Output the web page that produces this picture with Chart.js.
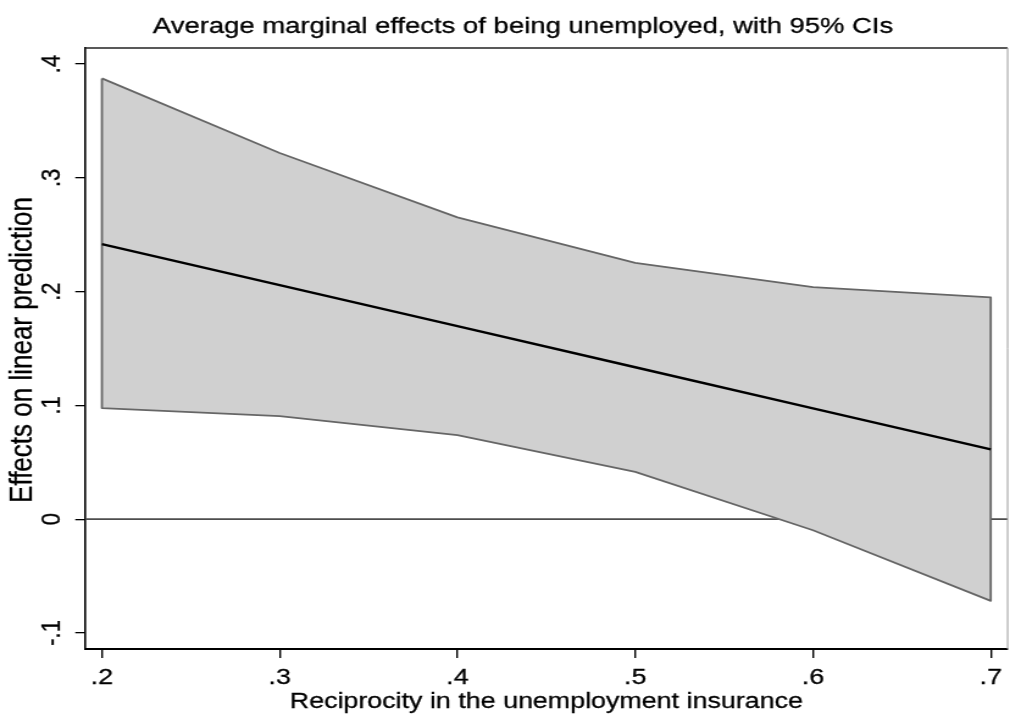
<!DOCTYPE html>
<html>
<head>
<meta charset="utf-8">
<script src="https://cdn.jsdelivr.net/npm/chart.js@4.4.1/dist/chart.umd.min.js"></script>
<style>
  html, body { margin: 0; padding: 0; background: #fff; overflow: hidden; }
  /* the graph is laid out 828 wide and stretched to the 1010 px window */
  #wrap { width: 828px; height: 720px; transform: scaleX(1.219807); transform-origin: 0 0; }
  canvas { display: block; }
</style>
</head>
<body>
<div id="wrap"><canvas id="c" width="828" height="720"></canvas></div>
<script>
// Reciprocity levels at which the margins were evaluated
const reciprocity = [0.2, 0.3, 0.4, 0.5, 0.6, 0.7];
// Average marginal effect of being unemployed
const effect  = [0.2418, 0.2057, 0.1696, 0.1335, 0.0974, 0.0613];
// 95% confidence limits
const ciUpper = [0.3874, 0.3218, 0.2652, 0.2253, 0.2040, 0.1949];
const ciLower = [0.0976, 0.0905, 0.0738, 0.0416, -0.0097, -0.0718];

const xTickValues = [0.2, 0.3, 0.4, 0.5, 0.6, 0.7];
const xTickLabels = ['.2', '.3', '.4', '.5', '.6', '.7'];
const yTickValues = [-0.1, 0, 0.1, 0.2, 0.3, 0.4];
const yTickLabels = ['-.1', '0', '.1', '.2', '.3', '.4'];

const titleText = 'Average marginal effects of being unemployed, with 95% CIs';
const xTitle = 'Reciprocity in the unemployment insurance';
const yTitle = 'Effects on linear prediction';

const FONT = '"Liberation Sans", Arial, Helvetica, sans-serif';
const X_MIN = 0.1905, X_MAX = 0.7095;
const Y_MIN = -0.1141, Y_MAX = 0.4141;

const pts = ys => reciprocity.map((x, i) => ({ x: x, y: ys[i] }));
const ciOutline = pts(ciUpper).concat(pts(ciLower).reverse());
ciOutline.push(ciOutline[0]);

// graph title and axis titles, drawn with a light outline so they read as heavy as the ticks
function heavyText(ctx, text, x, y, size, rotate) {
  ctx.save();
  ctx.translate(x, y);
  if (rotate) ctx.rotate(-Math.PI / 2);
  ctx.font = size + 'px ' + FONT;
  ctx.fillStyle = '#000';
  ctx.strokeStyle = '#000';
  ctx.lineWidth = 0.3;
  ctx.textAlign = 'center';
  ctx.textBaseline = rotate ? 'middle' : 'alphabetic';
  ctx.fillText(text, 0, 0);
  ctx.strokeText(text, 0, 0);
  ctx.restore();
}

const graphText = {
  id: 'graphText',
  afterDraw(chart) {
    const a = chart.chartArea, ctx = chart.ctx;
    heavyText(ctx, titleText, 428.8, 33.3, 22.5, false);
    heavyText(ctx, xTitle, (a.left + a.right) / 2, 708.3, 22, false);
    heavyText(ctx, yTitle, 18.8, (a.top + a.bottom) / 2 + 1.5, 26, true);
  }
};

const plotFrame = {
  id: 'plotFrame',
  afterDatasetsDraw(chart) {
    const a = chart.chartArea, ctx = chart.ctx;
    ctx.save();
    ctx.lineWidth = 1.4;
    ctx.strokeStyle = '#222';
    ctx.beginPath();
    ctx.moveTo(a.left, a.top);
    ctx.lineTo(a.right, a.top);
    ctx.stroke();
    ctx.lineWidth = 1;
    ctx.strokeStyle = '#999';
    ctx.beginPath();
    ctx.moveTo(a.right, a.top);
    ctx.lineTo(a.right, a.bottom);
    ctx.stroke();
    ctx.restore();
  }
};

new Chart(document.getElementById('c'), {
  type: 'line',
  data: {
    datasets: [
      { label: 'zero', data: [{ x: X_MIN, y: 0 }, { x: X_MAX, y: 0 }],
        borderColor: '#4d4d4d', borderWidth: 1.7, pointRadius: 0, fill: false, order: 4 },
      { label: 'upper', data: pts(ciUpper), borderColor: 'transparent', borderWidth: 0,
        backgroundColor: '#d0d0d0', fill: '+1', pointRadius: 0, order: 3 },
      { label: 'lower', data: pts(ciLower), borderColor: 'transparent', borderWidth: 0,
        fill: false, pointRadius: 0, order: 3 },
      { label: 'ci', data: ciOutline, borderColor: '#666', borderWidth: 1.8,
        fill: false, pointRadius: 0, order: 2 },
      { label: 'effect', data: pts(effect), borderColor: '#000', borderWidth: 2.4,
        fill: false, pointRadius: 0, order: 1 }
    ]
  },
  options: {
    responsive: false,
    animation: false,
    devicePixelRatio: 1,
    layout: { padding: { top: 48, left: 0, right: 1, bottom: 0 } },
    elements: { line: { tension: 0, borderJoinStyle: 'round' } },
    plugins: { legend: { display: false }, tooltip: { enabled: false }, title: { display: false } },
    scales: {
      x: {
        type: 'linear', min: X_MIN, max: X_MAX,
        afterBuildTicks: s => { s.ticks = xTickValues.map(v => ({ value: v })); },
        afterFit: s => { s.height = 71; },
        ticks: { autoSkip: false, minRotation: 0, maxRotation: 0, padding: 6.6, color: '#000',
                 textStrokeColor: '#000', textStrokeWidth: 0.3,
                 font: { family: FONT, size: 22 }, callback: (v, i) => xTickLabels[i] },
        grid: { drawOnChartArea: false, drawTicks: true, tickLength: 9, color: '#000', lineWidth: 1.4 },
        border: { display: true, color: '#000', width: 2 },
        title: { display: false, text: xTitle }
      },
      y: {
        type: 'linear', min: Y_MIN, max: Y_MAX,
        afterBuildTicks: s => { s.ticks = yTickValues.map(v => ({ value: v })); },
        afterFit: s => { s.width = 69.7; },
        ticks: { autoSkip: false, minRotation: 90, maxRotation: 90, crossAlign: 'center', padding: 6.2,
                 color: '#000', textStrokeColor: '#000', textStrokeWidth: 0.3,
                 font: { family: FONT, size: 22 }, callback: (v, i) => yTickLabels[i] },
        grid: { drawOnChartArea: false, drawTicks: true, tickLength: 8, color: '#000', lineWidth: 1.3 },
        border: { display: true, color: '#000', width: 1.6 },
        title: { display: false, text: yTitle }
      }
    }
  },
  plugins: [graphText, plotFrame]
});
</script>
</body>
</html>
